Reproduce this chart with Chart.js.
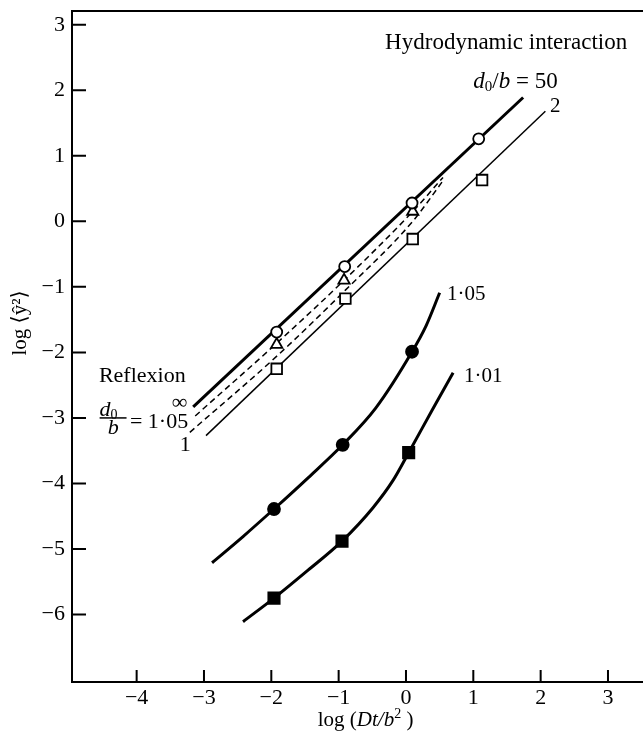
<!DOCTYPE html>
<html>
<head>
<meta charset="utf-8">
<script src="https://cdn.jsdelivr.net/npm/chart.js@4.4.0/dist/chart.umd.min.js"></script>
<style>
html, body { margin: 0; padding: 0; background: #fff; }
</style>
</head>
<body>
<canvas id="grafico" width="643" height="733"></canvas>
<script>
// eixos
const xTicks = [-4, -3, -2, -1, 0, 1, 2, 3];
const xTickLabels = ['−4', '−3', '−2', '−1', '0', '1', '2', '3'];
const yTicks = [3, 2, 1, 0, -1, -2, -3, -4, -5, -6];
const yTickLabels = ['3', '2', '1', '0', '−1', '−2', '−3', '−4', '−5', '−6'];

// pontos (log Dt/b^2, log <y^2>)
const circX = [-1.92, -0.91, 0.09, 1.08];
const circY = [-1.69, -0.69, 0.28, 1.26];
const sqX = [-1.92, -0.9, 0.1, 1.13];
const sqY = [-2.25, -1.18, -0.27, 0.63];
const triX = [-1.92, -0.92, 0.1];
const triY = [-1.88, -0.9, 0.15];
const dotX = [-1.96, -0.94, 0.09];
const dotY = [-4.39, -3.41, -1.99];
const blkX = [-1.96, -0.95, 0.04];
const blkY = [-5.75, -4.88, -3.53];

// curvas
const hid50X = [-3.16, 1.74];
const hid50Y = [-2.83, 1.89];
const hid2X = [-2.97, 2.07];
const hid2Y = [-3.27, 1.68];
const ref105X = [-3.13, -1.92, -0.92, 0.1, 0.55];
const ref105Y = [-2.97, -1.86, -0.9, 0.15, 0.67];
const ref1X = [-3.21, -1.9, -0.9, 0.1, 0.55];
const ref1Y = [-3.22, -2.04, -1.05, 0.0, 0.62];
const hid105X = [-2.88, -2.42, -1.96, -1.45, -0.94, -0.45, 0.09, 0.3, 0.5];
const hid105Y = [-5.21, -4.81, -4.39, -3.91, -3.41, -2.85, -1.99, -1.59, -1.09];
const hid101X = [-2.42, -1.96, -1.45, -0.95, -0.49, -0.19, 0.04, 0.4, 0.7];
const hid101Y = [-6.11, -5.75, -5.32, -4.88, -4.37, -3.95, -3.53, -2.86, -2.31];

const pts = (xs, ys) => xs.map((x, i) => ({ x: x, y: ys[i] }));

const serif = '"Liberation Serif", "DejaVu Serif", serif';
const rom = s => s + 'px ' + serif;
const ita = s => 'italic ' + s + 'px ' + serif;

function marcas(data, style, radius, fill) {
    return {
        data: data, showLine: false, pointStyle: style, pointRadius: radius,
        pointBackgroundColor: fill, pointBorderColor: '#000', pointBorderWidth: 1.8,
        pointHoverRadius: radius
    };
}
function linha(data, width, dash) {
    return {
        data: data, showLine: true, pointRadius: 0, pointHoverRadius: 0,
        borderColor: '#000', borderWidth: width, borderDash: dash || [],
        cubicInterpolationMode: 'monotone', fill: false
    };
}

function escreve(ctx, px, py, runs) {
    let cx = px;
    runs.forEach(function (r) {
        ctx.font = r.f;
        ctx.fillText(r.t, cx, py + (r.dy || 0));
        cx += ctx.measureText(r.t).width;
    });
}
function largura(ctx, runs) {
    let w = 0;
    runs.forEach(function (r) { ctx.font = r.f; w += ctx.measureText(r.t).width; });
    return w;
}

const extras = {
    id: 'extras',
    afterDraw(chart) {
        const ctx = chart.ctx, a = chart.chartArea;
        const x = chart.scales.x, y = chart.scales.y;
        ctx.save();
        ctx.strokeStyle = '#000';
        ctx.lineWidth = 2;
        ctx.beginPath();
        ctx.moveTo(a.left, a.top);
        ctx.lineTo(a.right, a.top);
        xTicks.forEach(function (v) {
            const p = x.getPixelForValue(v);
            ctx.moveTo(p, a.bottom);
            ctx.lineTo(p, a.bottom - 12);
        });
        yTicks.forEach(function (v) {
            const p = y.getPixelForValue(v);
            ctx.moveTo(a.left, p);
            ctx.lineTo(a.left + 14, p);
        });
        ctx.stroke();

        ctx.fillStyle = '#000';
        ctx.textBaseline = 'middle';
        ctx.textAlign = 'left';
        const X = v => x.getPixelForValue(v), Y = v => y.getPixelForValue(v);

        escreve(ctx, X(-0.31), Y(2.73), [{ t: 'Hydrodynamic interaction', f: rom(23) }]);
        escreve(ctx, X(1.0), Y(2.13), [
            { t: 'd', f: ita(23) }, { t: '0', f: rom(15), dy: 5 },
            { t: '/', f: rom(23) }, { t: 'b', f: ita(23) }, { t: ' = 50', f: rom(23) }]);
        escreve(ctx, X(2.14), Y(1.75), [{ t: '2', f: rom(21) }]);
        escreve(ctx, X(0.61), Y(-1.12), [{ t: '1·05', f: rom(21) }]);
        escreve(ctx, X(0.86), Y(-2.36), [{ t: '1·01', f: rom(21) }]);

        escreve(ctx, X(-4.56), Y(-2.36), [{ t: 'Reflexion', f: rom(22) }]);
        escreve(ctx, X(-4.55), Y(-2.88), [{ t: 'd', f: ita(22) }, { t: '0', f: rom(14), dy: 5 }]);
        escreve(ctx, X(-4.43), Y(-3.15), [{ t: 'b', f: ita(22) }]);
        escreve(ctx, X(-4.1), Y(-3.06), [{ t: '= 1·05', f: rom(22) }]);
        escreve(ctx, X(-3.48), Y(-2.77), [{ t: '∞', f: rom(22) }]);
        escreve(ctx, X(-3.36), Y(-3.41), [{ t: '1', f: rom(22) }]);
        ctx.lineWidth = 1.5;
        ctx.beginPath();
        ctx.moveTo(X(-4.55), Y(-3.0));
        ctx.lineTo(X(-4.15), Y(-3.0));
        ctx.stroke();

        // titulos dos eixos
        const tx = [{ t: 'log (', f: rom(21) }, { t: 'Dt/b', f: ita(21) },
            { t: '2', f: rom(14), dy: -6 }, { t: ' )', f: rom(21) }];
        escreve(ctx, X(-0.6) - largura(ctx, tx) / 2, a.bottom + 38, tx);

        ctx.translate(a.left - 52, Y(-1.55));
        ctx.rotate(-Math.PI / 2);
        ctx.textAlign = 'center';
        ctx.font = rom(21);
        ctx.fillText('log ⟨ŷ²⟩', 0, 0);
        ctx.restore();
    }
};

new Chart(document.getElementById('grafico'), {
    type: 'scatter',
    data: {
        datasets: [
            marcas(pts(circX, circY), 'circle', 5.5, '#fff'),
            marcas(pts(sqX, sqY), 'rect', 7.5, '#fff'),
            marcas(pts(triX, triY), 'triangle', 6.5, '#fff'),
            marcas(pts(dotX, dotY), 'circle', 6, '#000'),
            marcas(pts(blkX, blkY), 'rect', 8, '#000'),
            linha(pts(hid50X, hid50Y), 3),
            linha(pts(hid2X, hid2Y), 1.5),
            linha(pts(ref105X, ref105Y), 1.5, [6, 4]),
            linha(pts(ref1X, ref1Y), 1.5, [6, 4]),
            linha(pts(hid105X, hid105Y), 3),
            linha(pts(hid101X, hid101Y), 3)
        ]
    },
    options: {
        responsive: false,
        animation: false,
        layout: { autoPadding: false, padding: { top: 11, right: 0, left: 0, bottom: 0 } },
        plugins: { legend: { display: false }, tooltip: { enabled: false } },
        scales: {
            x: {
                type: 'linear', min: -4.96, max: 3.52,
                afterBuildTicks: s => { s.ticks = xTicks.map(v => ({ value: v })); },
                afterFit: s => { s.height = 51; s.paddingLeft = 0; s.paddingRight = 0; },
                ticks: {
                    callback: v => xTickLabels[xTicks.indexOf(v)],
                    font: { family: serif, size: 22 }, color: '#000', padding: 3,
                    maxRotation: 0, autoSkip: false
                },
                grid: { display: false, drawTicks: false },
                border: { display: true, color: '#000', width: 2 }
            },
            y: {
                type: 'linear', min: -7.03, max: 3.21,
                afterBuildTicks: s => { s.ticks = yTicks.map(v => ({ value: v })); },
                afterFit: s => { s.width = 72; s.paddingTop = 0; s.paddingBottom = 0; },
                ticks: {
                    callback: v => yTickLabels[yTicks.indexOf(v)],
                    font: { family: serif, size: 22 }, color: '#000', padding: 7,
                    autoSkip: false
                },
                grid: { display: false, drawTicks: false },
                border: { display: true, color: '#000', width: 2 }
            }
        }
    },
    plugins: [extras]
});
</script>
</body>
</html>
